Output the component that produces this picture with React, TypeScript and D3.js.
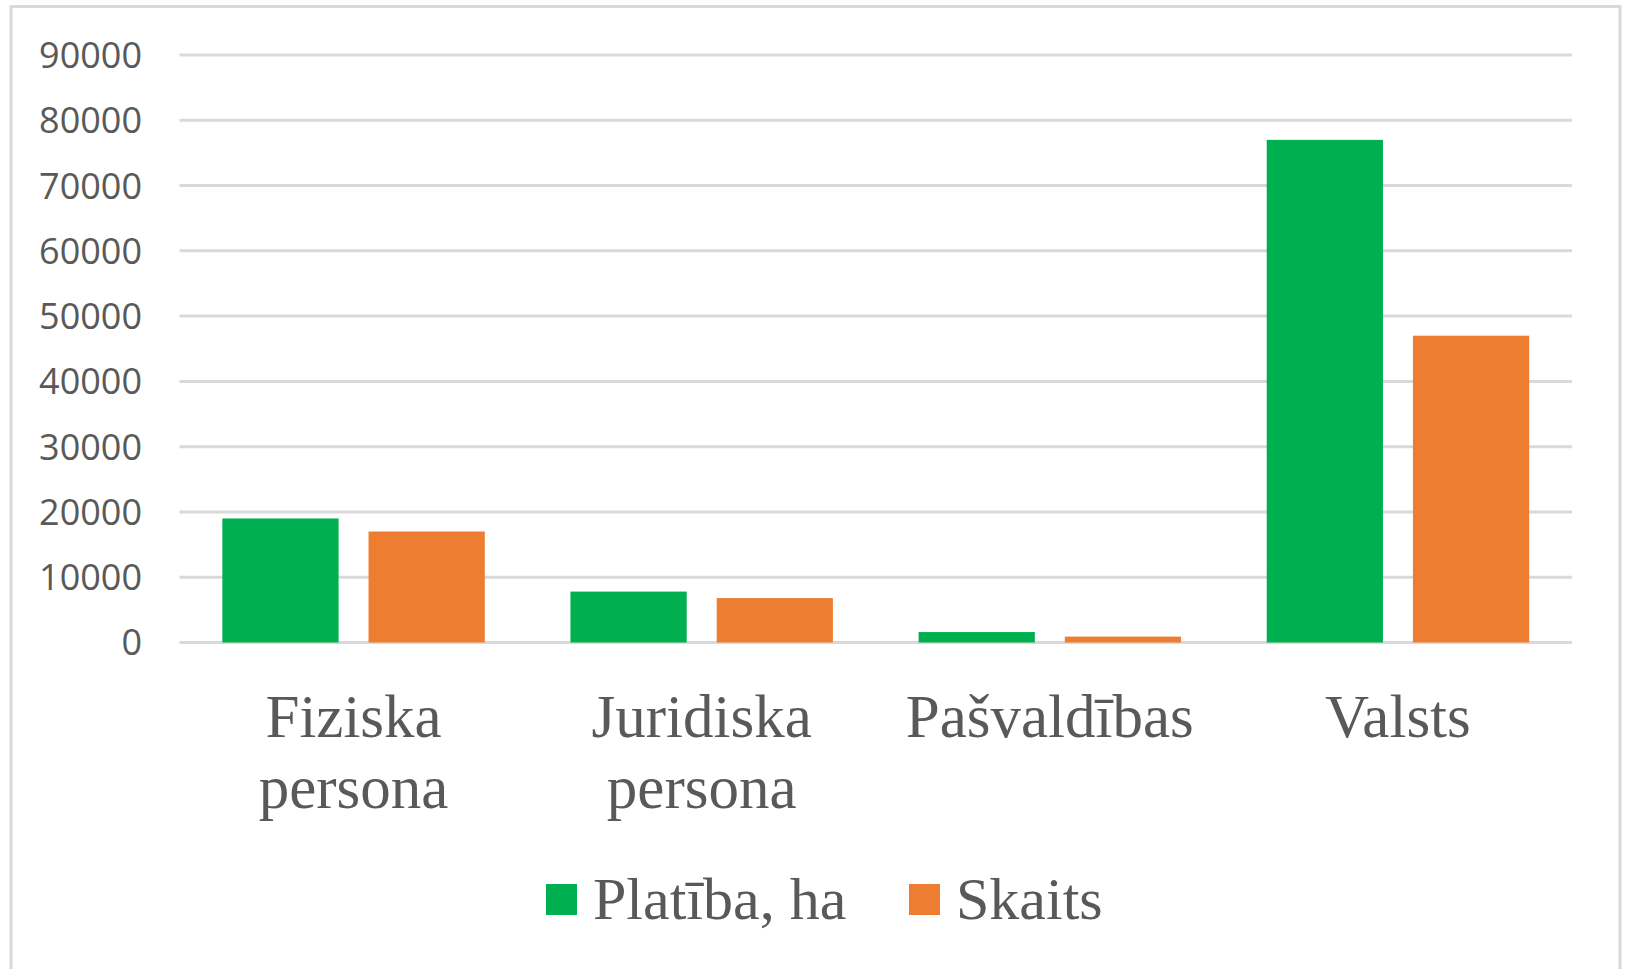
import React from 'react';
import * as d3 from 'd3';

// land ownership: area vs count, per owner type
const categories = ['Fiziska persona', 'Juridiska persona', 'Pašvaldības', 'Valsts'];
const categoryLines = [['Fiziska', 'persona'], ['Juridiska', 'persona'], ['Pašvaldības'], ['Valsts']];
const seriesNames = ['Platība, ha', 'Skaits'];
const platiba = [19000, 7800, 1600, 77000];
const skaits = [17000, 6800, 900, 47000];
const yTicks = [0, 10000, 20000, 30000, 40000, 50000, 60000, 70000, 80000, 90000];
const colors = ['#00B050', '#ED7D31'];

const W = 1627;
const H = 969;
const plot = { left: 179.5, right: 1572, top: 55, bottom: 642.5 };

const App = () => {
  const x0 = d3.scaleBand<string>()
    .domain(categories)
    .range([plot.left, plot.right])
    .padding(0);
  const x1 = d3.scaleBand<string>()
    .domain(seriesNames)
    .range([0, x0.bandwidth()])
    .paddingInner(0.205)
    .paddingOuter(0.293);
  const y = d3.scaleLinear().domain([0, 90000]).range([plot.bottom, plot.top]);

  const values = [platiba, skaits];
  const grey = '#595959';
  const serif = "'Liberation Serif', 'Times New Roman', serif";

  return (
    <svg width={W} height={H} style={{ position: 'absolute', left: 0, top: 0, background: '#fff' }}>
      <rect x={11} y={6.5} width={1609} height={1000} fill="#fff" stroke="#D9D9D9" strokeWidth={3} />

      {yTicks.map(t => (
        <g key={t}>
          <line x1={plot.left} x2={plot.right} y1={y(t)} y2={y(t)} stroke="#D9D9D9" strokeWidth={3} />
          <text x={142} y={y(t)} dy="0.36em" textAnchor="end"
            fontFamily="'Open Sans', sans-serif" fontSize={36} fill={grey}>{t}</text>
        </g>
      ))}

      {categories.map((c, i) => (
        <g key={c} transform={`translate(${x0(c)},0)`}>
          {seriesNames.map((s, j) => (
            <rect key={s}
              x={x1(s)}
              y={y(values[j][i])}
              width={x1.bandwidth()}
              height={y(0) - y(values[j][i])}
              fill={colors[j]} />
          ))}
        </g>
      ))}

      {categories.map((c, i) => (
        <text key={c} x={(x0(c) || 0) + x0.bandwidth() / 2} textAnchor="middle"
          fontFamily={serif} fontSize={61} fill={grey}>
          {categoryLines[i].map((line, k) => (
            <tspan key={k} x={(x0(c) || 0) + x0.bandwidth() / 2} y={737 + k * 71}>{line}</tspan>
          ))}
        </text>
      ))}

      {seriesNames.map((s, j) => {
        const lx = [546, 909][j];
        return (
          <g key={s}>
            <rect x={lx} y={884} width={31} height={31} fill={colors[j]} />
            <text x={lx + 47} y={919} fontFamily={serif} fontSize={60} fill={grey}>{s}</text>
          </g>
        );
      })}
    </svg>
  );
};

export default App;
